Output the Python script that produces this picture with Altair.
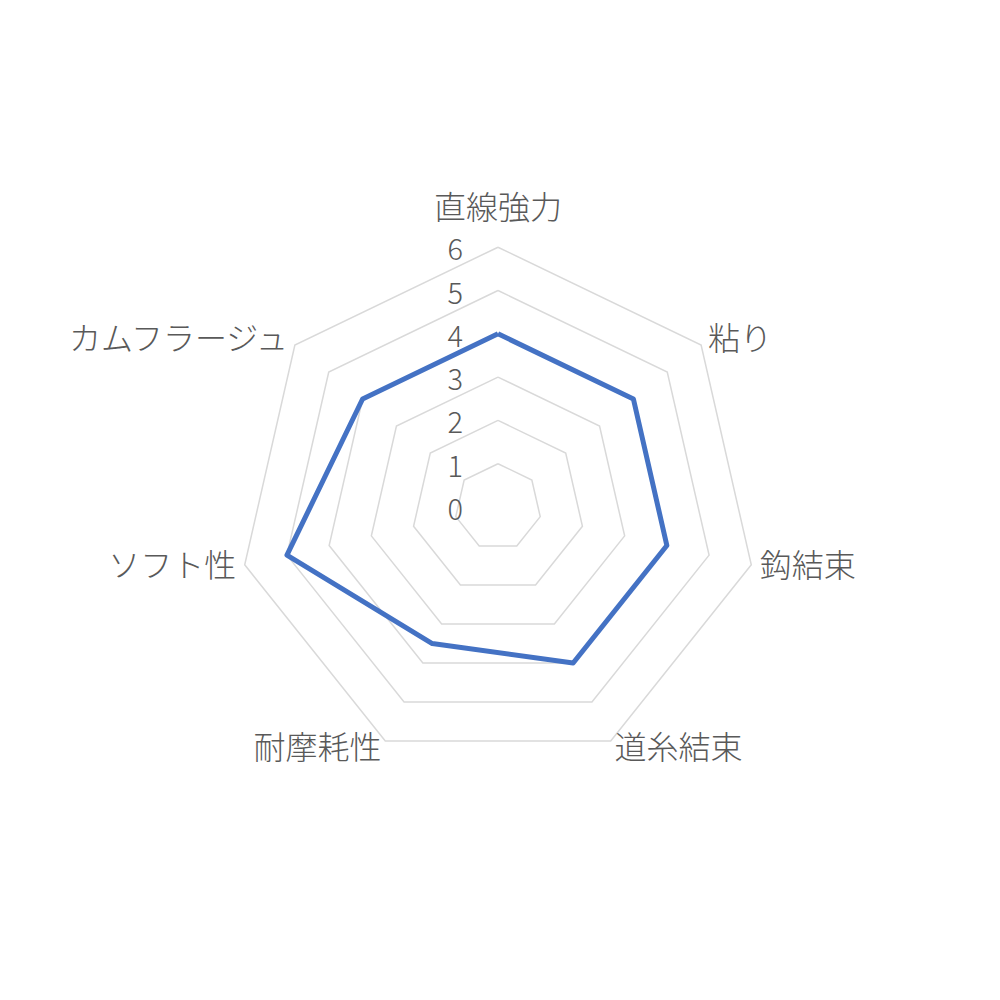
import altair as alt
import pandas as pd

categories = ["直線強力", "粘り", "鈎結束", "道糸結束", "耐摩耗性", "ソフト性", "カムフラージュ"]
values = [4, 4, 4, 4, 3.5, 5, 4]
levels = [1, 2, 3, 4, 5, 6]
tick_labels = ["0", "1", "2", "3", "4", "5", "6"]
tick_values = [0, 1, 2, 3, 4, 5, 6]

N = len(categories)
W = 960
H = 960
UNIT = 43.3
XMIN = -490 / UNIT
XMAX = XMIN + W / UNIT
YMAX = 499 / UNIT
YMIN = YMAX - H / UNIT

# series polygon (closed)
series_rows = [{"i": k, "r": v, "cat": c} for k, (c, v) in enumerate(zip(categories, values))]
series_rows.append({"i": N, "r": values[0], "cat": categories[0]})
series_df = pd.DataFrame(series_rows)

# grid rings
ring_rows = []
for lv in levels:
    for k in range(N + 1):
        ring_rows.append({"i": k, "r": lv, "level": lv})
ring_df = pd.DataFrame(ring_rows)

# category labels
lab_df = pd.DataFrame({"i": list(range(N)), "cat": categories, "r": [6.2] * N})

# tick labels
tick_df = pd.DataFrame({"t": tick_labels, "r": tick_values})

xs = alt.Scale(domain=[XMIN, XMAX], nice=False, zero=False)
ys = alt.Scale(domain=[YMIN, YMAX], nice=False, zero=False)

calc = dict(
    px=f"datum.r * sin(2 * PI * datum.i / {N})",
    py=f"datum.r * cos(2 * PI * datum.i / {N})",
)

X = alt.X("px:Q", scale=xs, axis=None)
Y = alt.Y("py:Q", scale=ys, axis=None)

rings = alt.Chart(ring_df).transform_calculate(**calc).mark_line(
    color="#d9d9d9", strokeWidth=1.5
).encode(x=X, y=Y, detail="level:N", order="i:Q")

series = alt.Chart(series_df).transform_calculate(**calc).mark_line(
    color="#4472C4", strokeWidth=5, strokeJoin="round"
).encode(x=X, y=Y, order="i:Q")

FONT = "Noto Sans CJK JP"
GRAY = "#595959"
LSIZE = 32

labbase = alt.Chart(lab_df).transform_calculate(
    **calc, sx=f"sin(2 * PI * datum.i / {N})"
)
lab_top = labbase.transform_filter("abs(datum.sx) < 0.01").mark_text(
    font=FONT, fontSize=LSIZE, fontWeight=300, color=GRAY, align="center", baseline="bottom", dy=-13
).encode(x=X, y=Y, text="cat:N")
lab_right = labbase.transform_filter("datum.sx >= 0.01").mark_text(
    font=FONT, fontSize=LSIZE, fontWeight=300, color=GRAY, align="left", baseline="middle"
).encode(x=X, y=Y, text="cat:N")
lab_left = labbase.transform_filter("datum.sx <= -0.01").mark_text(
    font=FONT, fontSize=LSIZE, fontWeight=300, color=GRAY, align="right", baseline="middle"
).encode(x=X, y=Y, text="cat:N")

ticks = alt.Chart(tick_df).transform_calculate(px="0", py="datum.r").mark_text(
    font=FONT, fontSize=29, fontWeight=300, color=GRAY, align="right", baseline="middle", dx=-35, dy=4
).encode(x=X, y=Y, text="t:N")

chart = alt.layer(rings, series, lab_top, lab_right, lab_left, ticks).properties(
    width=W, height=H, padding=0, autosize=alt.AutoSizeParams(type="none")
).configure_view(strokeWidth=0, stroke="transparent")

chart.save("out.html", embed_options={"renderer": "svg", "actions": False})
